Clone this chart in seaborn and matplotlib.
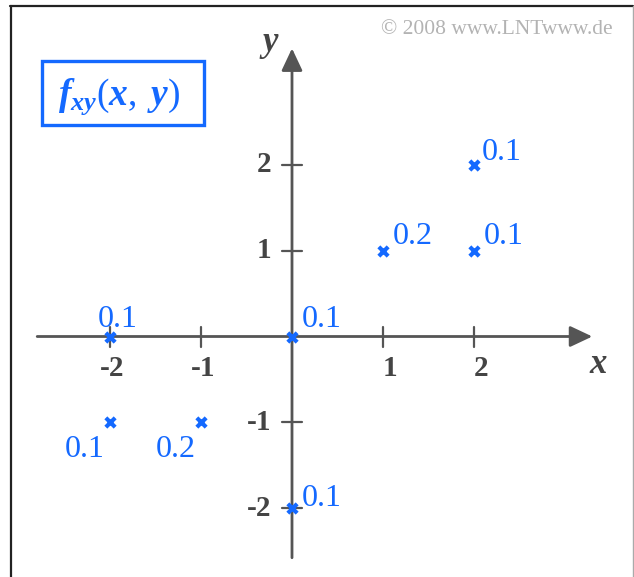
import matplotlib
matplotlib.use("Agg")
import matplotlib.pyplot as plt
from matplotlib.lines import Line2D
from matplotlib.patches import Rectangle
import seaborn as sns
import pandas as pd

# Joint probability mass function f_xy(x, y): support points and their masses
x_vals = [-2, 0, -2, -1, 0, 1, 2, 2]
y_vals = [0, 0, -1, -1, -2, 1, 1, 2]
probs = [0.1, 0.1, 0.1, 0.2, 0.1, 0.2, 0.1, 0.1]

x_ticks = [-2, -1, 1, 2]
y_ticks = [-2, -1, 1, 2]
x_tick_labels = ["-2", "-1", "1", "2"]
y_tick_labels = ["-2", "-1", "1", "2"]

df = pd.DataFrame({"x": x_vals, "y": y_vals, "p": probs})

BLUE = "#1469ff"
AXIS = "#555555"
TICKTXT = "#444444"

sns.set_theme(style="white")
plt.rcParams["font.family"] = ["Liberation Serif", "DejaVu Serif"]
plt.rcParams["mathtext.fontset"] = "custom"
plt.rcParams["mathtext.it"] = "Liberation Serif:italic:bold"
plt.rcParams["mathtext.rm"] = "Liberation Serif"
plt.rcParams["mathtext.bf"] = "Liberation Serif:bold"

W, H = 634, 577
fig = plt.figure(figsize=(W / 100, H / 100), dpi=100)
fig.patch.set_facecolor("white")
ax = fig.add_axes([0, 0, 1, 1])

# pixel geometry of the coordinate system
ox, oy = 292.0, 336.5      # origin in pixels (from top-left)
ux, uy = 91.0, 85.75       # pixels per unit
ax.set_xlim(-ox / ux, (W - ox) / ux)
ax.set_ylim(-(H - oy) / uy, oy / uy)
ax.axis("off")

# coordinate axes with arrow heads
arrow_style = "-|>,head_length=0.68,head_width=0.32"
ax.annotate("", xy=(3.30, 0), xytext=(-2.80, 0),
            arrowprops=dict(arrowstyle=arrow_style, color=AXIS, lw=2,
                            mutation_scale=20, shrinkA=0, shrinkB=0))
ax.annotate("", xy=(0, 3.36), xytext=(0, -2.58),
            arrowprops=dict(arrowstyle=arrow_style, color=AXIS, lw=2,
                            mutation_scale=20, shrinkA=0, shrinkB=0))

# tick marks
tx = 10 / uy
ty = 10 / ux
for t in x_ticks:
    ax.plot([t, t], [-tx, tx], color=AXIS, lw=1.6)
for t in y_ticks:
    ax.plot([-ty, ty], [t, t], color=AXIS, lw=1.6)

px = 100 / 72.0  # pixels per point
for t, lab in zip(x_ticks, x_tick_labels):
    ax.annotate(lab, (t, 0), xytext=(14 / px, -32 / px),
                textcoords="offset points", ha="right", va="center",
                fontsize=21, fontweight="bold", color=TICKTXT)
for t, lab in zip(y_ticks, y_tick_labels):
    ax.annotate(lab, (0, t), xytext=(-21 / px, 0),
                textcoords="offset points", ha="right", va="center",
                fontsize=21, fontweight="bold", color=TICKTXT)

# axis names
ax.annotate("x", (3.30, 0), xytext=(6 / px, -28 / px), textcoords="offset points",
            ha="center", va="center", fontsize=25, fontstyle="italic",
            fontweight="bold", color=TICKTXT)
ax.annotate("y", (0, 3.36), xytext=(-22 / px, 6 / px), textcoords="offset points",
            ha="center", va="center", fontsize=25, fontstyle="italic",
            fontweight="bold", color=TICKTXT)

# probability masses
sns.scatterplot(data=df, x="x", y="y", marker="x", s=45, linewidth=3,
                color=BLUE, ax=ax, legend=False, zorder=5)

label_offsets = [(-12, 9.5), (10, 9.5), (-45, -35), (-45, -35),
                 (10, 2), (10, 7), (10, 7), (8, 5)]
for xv, yv, p, (dx, dy) in zip(x_vals, y_vals, probs, label_offsets):
    ax.annotate(f"{p:.1f}", (xv, yv), xytext=(dx / px, dy / px),
                textcoords="offset points", ha="left", va="baseline",
                fontsize=23, color=BLUE)

# title box
fig.text(119 / W, 1 - 97 / H, r"$f_{xy}(x,\;y)$", ha="center", va="center",
         fontsize=27, color=BLUE)
fig.patches.append(Rectangle((42 / W, 1 - 125 / H), 162 / W, 64 / H,
                             transform=fig.transFigure, fill=False,
                             edgecolor=BLUE, lw=2.4))

# copyright line
fig.text(613 / W, 1 - 30 / H, "\u00a9 2008 www.LNTwww.de", ha="right",
         va="center", fontsize=15.5, color="#b3b3b3")

# frame
fig.lines.append(Line2D([10 / W, 633 / W], [1 - 5.5 / H, 1 - 5.5 / H],
                        transform=fig.transFigure, color="#222222", lw=1.6))
fig.lines.append(Line2D([11 / W, 11 / W], [0, 1 - 5.5 / H],
                        transform=fig.transFigure, color="#222222", lw=1.6))
fig.lines.append(Line2D([632.5 / W, 632.5 / W], [0, 1 - 5.5 / H],
                        transform=fig.transFigure, color="#aaaaaa", lw=1.0))

fig.savefig("out.png", dpi=100, facecolor="white")
